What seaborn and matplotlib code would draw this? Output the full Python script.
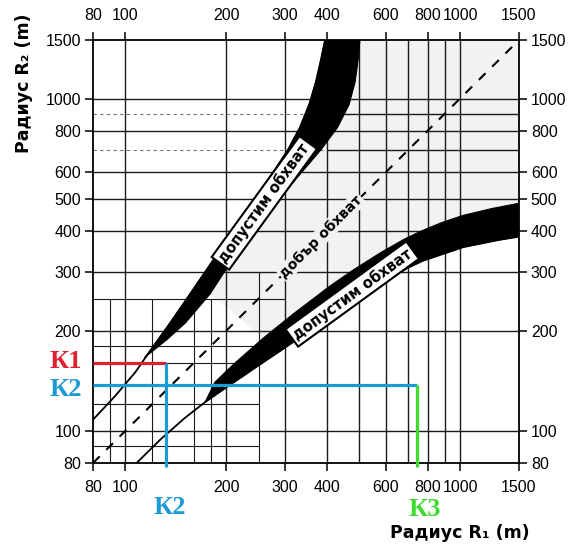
import numpy as np
import matplotlib
matplotlib.use("Agg")
import matplotlib.pyplot as plt
import seaborn as sns
from matplotlib.ticker import FixedLocator, FixedFormatter, NullLocator

W, H = 571, 546

# axis ticks
x_ticks = [80, 100, 200, 300, 400, 600, 800, 1000, 1500]
y_ticks = [80, 100, 200, 300, 400, 500, 600, 800, 1000, 1500]

# grid of the nomogram
grid_x = [100, 200, 300, 400, 500, 600, 700, 800, 900, 1000]
grid_y = [100, 200, 300, 400, 500, 600, 800, 1000]
grid_y_light = [700, 900]
fine_grid = [90, 120, 160, 180]

# upper band "допустим обхват": left edge (incl. thin line) and right edge
upper_left_r1 = [80, 93, 107, 118, 136, 156, 179, 205, 236, 270, 306, 332, 354, 371, 384, 395]
upper_left_r2 = [108, 127, 150, 173, 211, 258, 316, 386, 472, 578, 701, 817, 958, 1124, 1309, 1500]
upper_right_r1 = [114, 133, 151, 179, 204, 236, 276, 326, 384, 430, 466, 486, 496, 502]
upper_right_r2 = [166, 188, 211, 258, 316, 386, 472, 578, 701, 817, 958, 1124, 1309, 1500]

# lower band "допустим обхват": lower edge (incl. thin line) and upper edge
lower_low_r1 = [108, 127, 150, 173, 200, 240, 300, 386, 472, 578, 701, 775, 1021, 1300, 1500]
lower_low_r2 = [80, 94, 109, 122, 135, 153, 178, 212, 244, 278, 310, 325, 357, 375, 384]
lower_up_r1 = [173, 185, 211, 258, 316, 409, 480, 577, 680, 760, 880, 1021, 1250, 1500]
lower_up_r2 = [122, 140, 159, 190, 224, 273, 305, 343, 377, 398, 423, 445, 467, 484]

# "добър обхват" diagonal R2 = R1
diag = [80, 1500]

# worked example K1, K2, K3
k1_r2 = 160
k2_r1 = 132
k2_r2 = 137
k3_r1 = 745

RED = "#e0202e"
BLUE = "#1b9ad6"
GREEN = "#3edc2e"
STIPPLE = "#f2f2f2"

sns.set_theme(style="white")
plt.rcParams["font.family"] = ["Liberation Sans", "DejaVu Sans"]
plt.rcParams["text.color"] = "black"

fig = plt.figure(figsize=(W / 100, H / 100), dpi=100)
ax = fig.add_axes([93 / W, 1 - 463 / H, (519 - 93) / W, (463 - 40) / H])
ax.set_xscale("log")
ax.set_yscale("log")
ax.set_xlim(80, 1500)
ax.set_ylim(80, 1500)

# light stipple between the bands
stip_r1 = upper_right_r1[3:] + [1500] + lower_up_r1[::-1][:-3]
stip_r2 = upper_right_r2[3:] + [1500] + lower_up_r2[::-1][:-3]
ax.fill(stip_r1, stip_r2, color=STIPPLE, lw=0, zorder=0)

# grid
gkw = dict(color="#1a1a1a", lw=1.0, zorder=1)
ax.vlines(grid_x, 80, 1500, **gkw)
ax.hlines(grid_y, 80, 1500, **gkw)
ax.hlines(grid_y_light, 80, 400, color="#777777", lw=0.8, linestyles=(0, (3, 3)), zorder=1)
ax.hlines(grid_y_light, 400, 1500, **gkw)
ax.vlines(fine_grid, 80, 250, color="#1a1a1a", lw=0.8, zorder=1)
ax.hlines(fine_grid, 80, 250, color="#1a1a1a", lw=0.8, zorder=1)
ax.vlines([250], 80, 300, color="#1a1a1a", lw=0.8, zorder=1)
ax.hlines([250], 80, 300, color="#1a1a1a", lw=0.8, zorder=1)

# diagonal
sns.lineplot(x=diag, y=diag, ax=ax, color="black", lw=1.5, linestyle=(0, (4.5, 4.5)),
             sort=False, estimator=None, zorder=3)

# bands
for x_edge, y_edge in [(upper_left_r1, upper_left_r2), (lower_low_r1, lower_low_r2)]:
    sns.lineplot(x=x_edge, y=y_edge, ax=ax, color="black", lw=1.3, sort=False,
                 estimator=None, zorder=4)

ul1 = np.array(upper_left_r1)
ul2 = np.array(upper_left_r2)
m = ul1 > upper_right_r1[0]
ax.fill(np.r_[upper_right_r1[0], ul1[m], upper_right_r1[::-1]],
        np.r_[upper_right_r2[0], ul2[m], upper_right_r2[::-1]],
        color="black", lw=0.8, zorder=4)

ll1 = np.array(lower_low_r1)
ll2 = np.array(lower_low_r2)
m = ll1 >= lower_up_r1[0]
ax.fill(np.r_[ll1[m], lower_up_r1[::-1]], np.r_[ll2[m], lower_up_r2[::-1]],
        color="black", lw=0.8, zorder=4)

# band labels
box = dict(boxstyle="square,pad=0.2", fc="white", ec="black", lw=1.5)
ax.text(260, 485, "допустим обхват", rotation=54, ha="center", va="center",
        fontsize=10.5, fontweight="bold", family="DejaVu Sans", bbox=box, zorder=6)
ax.text(476, 258, "допустим обхват", rotation=36, ha="center", va="center",
        fontsize=10.5, fontweight="bold", family="DejaVu Sans", bbox=box, zorder=6)
ax.text(384, 384, "добър обхват", rotation=45, ha="center", va="center",
        fontsize=10, fontweight="bold", family="DejaVu Sans",
        bbox=dict(boxstyle="square,pad=0.1", fc=STIPPLE, ec="none"), zorder=5)

# K lines
ax.plot([80, k2_r1], [k1_r2, k1_r2], color=RED, lw=2.3, zorder=7, solid_capstyle="butt")
ax.plot([80, k3_r1], [k2_r2, k2_r2], color=BLUE, lw=2.3, zorder=7, solid_capstyle="butt")
ax.plot([k2_r1, k2_r1], [k1_r2, 78], color=BLUE, lw=2.3, zorder=7, clip_on=False,
        solid_capstyle="butt")
ax.plot([k3_r1, k3_r1], [k2_r2, 78], color=GREEN, lw=2.3, zorder=7, clip_on=False,
        solid_capstyle="butt")

# axes styling
for s in ax.spines.values():
    s.set_color("black")
    s.set_linewidth(1.3)
    s.set_visible(True)
ax.xaxis.set_major_locator(FixedLocator(x_ticks))
ax.xaxis.set_major_formatter(FixedFormatter([str(v) for v in x_ticks]))
ax.yaxis.set_major_locator(FixedLocator(y_ticks))
ax.yaxis.set_major_formatter(FixedFormatter([str(v) for v in y_ticks]))
ax.xaxis.set_minor_locator(NullLocator())
ax.yaxis.set_minor_locator(NullLocator())
ax.tick_params(which="major", direction="out", length=6, width=1.1, color="black",
               labelsize=11.5, labelcolor="black",
               top=True, right=True, labeltop=True, labelright=True, left=True, bottom=True)
ax.tick_params(axis="x", pad=6)
ax.tick_params(axis="y", pad=2.5)
ax.set_xlabel("")
ax.set_ylabel("")
ax.grid(False)

# axis titles
fig.text(24 / W, 1 - 83 / H, "Радиус R₂ (m)", rotation=90, ha="center", va="center",
         fontsize=12.5, fontweight="bold", family="DejaVu Sans", color="black")
fig.text(530 / W, 1 - 533 / H, "Радиус R₁ (m)", ha="right", va="center",
         fontsize=12.5, fontweight="bold", family="DejaVu Sans", color="black")

# K labels
kkw = dict(fontsize=19, fontweight="bold", family="Liberation Serif", va="center")
fig.text(82 / W, 1 - 362 / H, "К1", color=RED, ha="right", **kkw)
fig.text(82 / W, 1 - 390 / H, "К2", color=BLUE, ha="right", **kkw)
fig.text(170 / W, 1 - 508 / H, "К2", color=BLUE, ha="center", **kkw)
fig.text(425 / W, 1 - 509 / H, "К3", color=GREEN, ha="center", **kkw)

fig.savefig("out.png", dpi=100)
